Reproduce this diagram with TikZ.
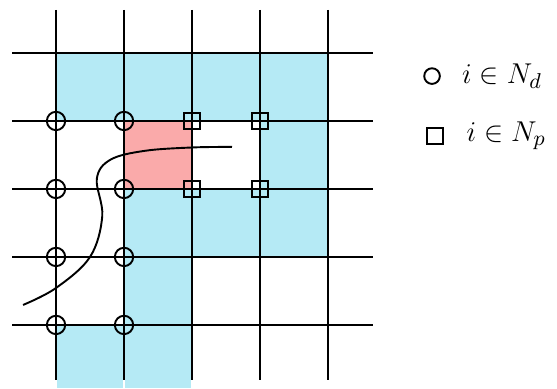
\documentclass[tikz,border=0pt]{standalone}
\usepackage{amsmath,amsfonts,amssymb}
\usetikzlibrary{positioning}
\definecolor{cellblue}{RGB}{181,234,245}
\definecolor{cellred}{RGB}{250,170,170}

\begin{document}
\begin{tikzpicture}[
  dnode/.style={circle, draw, thick, minimum size=0.27cm, inner sep=0pt},
  pnode/.style={rectangle, draw, thick, minimum size=0.24cm, inner sep=0pt},
  cell/.style={draw=white, line width=0.6pt},
  gridline/.style={thick}
]
\useasboundingbox (-0.824,0.779) rectangle (7.368,-4.941);
\foreach \x/\y in {0/0,1/0,2/0,3/0,3/-1,1/-2,2/-2,3/-2,1/-3}
  \filldraw[cell, fill=cellblue] (\x,\y) rectangle ++(1,-1);
\foreach \x in {0,1}
  \filldraw[cell, fill=cellblue] (\x,-4) rectangle (\x+1,-4.941);
\filldraw[cell, fill=cellred] (1,-1) rectangle (2,-2);
\foreach \i in {0,...,4} {
  \draw[gridline] (\i,0.632) -- (\i,-4.81);
  \draw[gridline] (-0.647,-\i) -- (4.66,-\i);
}
\draw[thick] plot[smooth, tension=0.6] coordinates {(-0.485,-3.706) (0,-3.456) (0.5,-3.0) (0.68,-2.4) (0.6,-1.85) (0.8,-1.57) (1.3,-1.44) (2.0,-1.39) (2.588,-1.382)};
\foreach \x in {0,1}
  \foreach \y in {1,...,4}
    \node[dnode] (d\x\y) at (\x,-\y) {};
\foreach \x in {2,3}
  \foreach \y in {1,2}
    \node[pnode] (p\x\y) at (\x,-\y) {};
\node[dnode, minimum size=0.23cm] (legd) at (5.53,-0.34) {};
\node[right=0.19cm of legd, font=\fontsize{13}{15}\selectfont] (legdtext) {$i\in N_d$};
\node[pnode] (legp) at (5.57,-1.22) {};
\node[right=0.21cm of legp, font=\fontsize{13}{15}\selectfont] (legptext) {$i\in N_p$};
\end{tikzpicture}
\end{document}
